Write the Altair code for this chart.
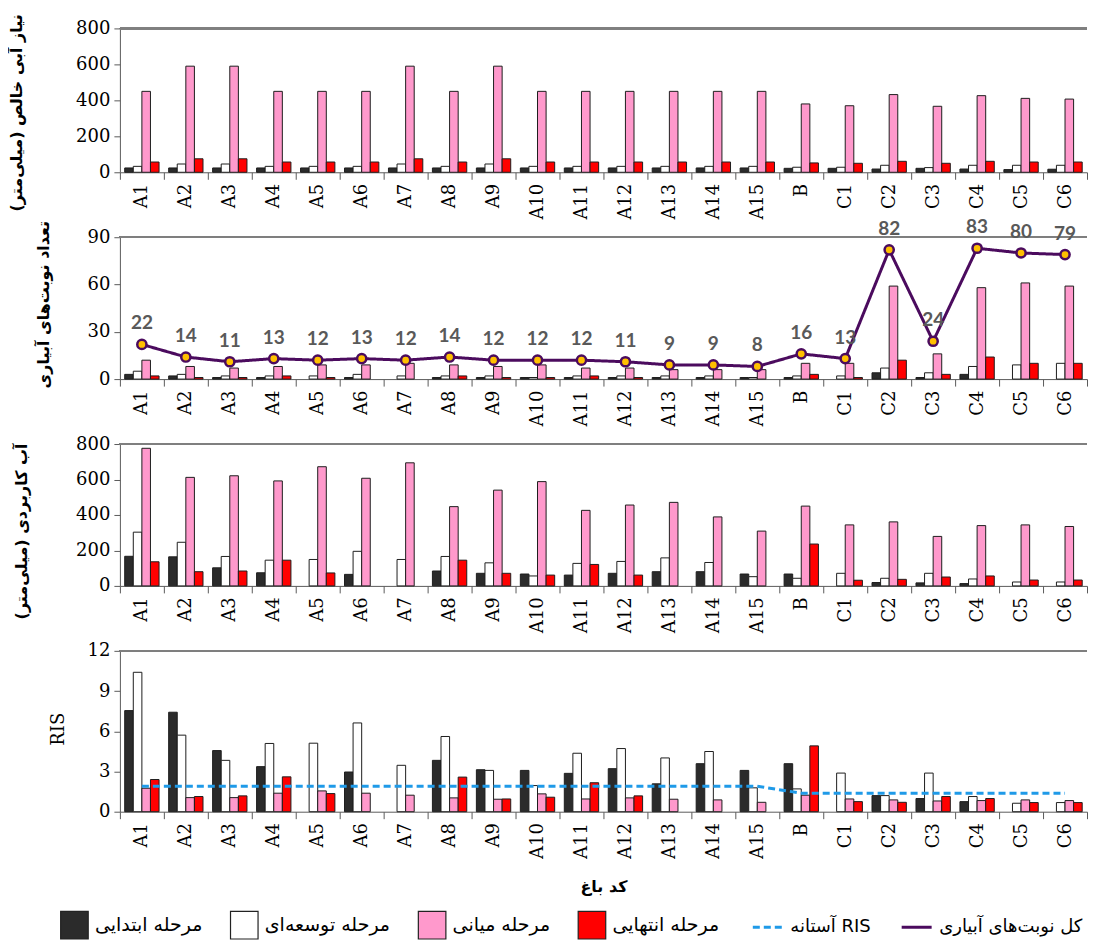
import altair as alt
import pandas as pd

cats = ["A1", "A2", "A3", "A4", "A5", "A6", "A7", "A8", "A9", "A10", "A11", "A12",
        "A13", "A14", "A15", "B", "C1", "C2", "C3", "C4", "C5", "C6"]
stages = ["مرحله ابتدایی", "مرحله توسعه‌ای", "مرحله میانی", "مرحله انتهایی"]
stage_colors = ["#2b2b2b", "#ffffff", "#ff99cc", "#ff0000"]
line_series = ["آستانه RIS", "کل نوبت‌های آبیاری"]
line_colors = ["#1f9ae8", "#4b0b5e"]

# Panel 1: net irrigation requirement (mm)
nir_initial = [24, 24, 24, 24, 24, 24, 24, 24, 24, 24, 24, 24, 24, 24, 24, 22, 22, 18, 22, 18, 15, 17]
nir_dev = [33, 46, 46, 33, 33, 33, 46, 33, 46, 33, 33, 33, 33, 33, 33, 28, 28, 39, 26, 39, 39, 39]
nir_mid = [450, 590, 590, 450, 450, 450, 590, 450, 590, 450, 450, 450, 450, 450, 450, 380, 370, 432, 367, 426, 411, 407]
nir_late = [57, 75, 75, 57, 57, 57, 75, 57, 75, 57, 57, 57, 57, 57, 57, 52, 50, 61, 50, 61, 57, 57]

# Panel 2: number of irrigation events
n_initial = [3, 2, 1, 1, 0, 1, 0, 1, 1, 1, 1, 1, 1, 1, 1, 1, 0, 4, 1, 3, 0, 0]
n_dev = [5, 3, 2, 2, 2, 3, 2, 2, 2, 1, 2, 2, 2, 2, 1, 2, 2, 7, 4, 8, 9, 10]
n_mid = [12, 8, 7, 8, 9, 9, 10, 9, 8, 9, 7, 7, 6, 6, 6, 10, 10, 59, 16, 58, 61, 59]
n_late = [2, 1, 1, 2, 1, 0, 0, 2, 1, 1, 2, 1, 0, 0, 0, 3, 1, 12, 3, 14, 10, 10]
n_total = [22, 14, 11, 13, 12, 13, 12, 14, 12, 12, 12, 11, 9, 9, 8, 16, 13, 82, 24, 83, 80, 79]

# Panel 3: applied water (mm)
aw_initial = [167, 164, 102, 74, 0, 65, 0, 84, 71, 67, 61, 71, 80, 80, 67, 67, 0, 19, 17, 13, 0, 0]
aw_dev = [303, 246, 166, 145, 149, 195, 149, 166, 130, 56, 127, 138, 158, 132, 52, 43, 71, 43, 71, 39, 22, 22]
aw_mid = [776, 612, 621, 592, 672, 607, 694, 447, 540, 588, 426, 456, 471, 389, 309, 450, 344, 361, 279, 340, 344, 335]
aw_late = [136, 80, 84, 145, 73, 0, 0, 145, 71, 61, 121, 61, 0, 0, 0, 236, 32, 37, 50, 56, 33, 33]

# Panel 4: RIS
ris_initial = [7.54, 7.42, 4.56, 3.36, 0, 2.96, 0, 3.83, 3.13, 3.08, 2.86, 3.21, 2.08, 3.58, 3.08, 3.58, 0, 1.2, 0.98, 0.75, 0, 0]
ris_dev = [10.4, 5.71, 3.83, 5.09, 5.11, 6.62, 3.46, 5.61, 3.08, 1.95, 4.36, 4.71, 4.01, 4.49, 1.78, 1.70, 2.88, 1.2, 2.88, 1.13, 0.63, 0.68]
ris_mid = [1.75, 1.05, 1.05, 1.38, 1.55, 1.38, 1.23, 1.03, 0.93, 1.33, 0.95, 1.03, 0.93, 0.88, 0.70, 1.23, 0.95, 0.88, 0.80, 0.83, 0.88, 0.83]
ris_late = [2.4, 1.13, 1.18, 2.6, 1.35, 0, 0, 2.58, 0.95, 1.08, 2.16, 1.18, 0, 0, 0, 4.91, 0.75, 0.70, 1.13, 0.98, 0.68, 0.68]
ris_threshold = [1.9, 1.9, 1.9, 1.9, 1.9, 1.9, 1.9, 1.9, 1.9, 1.9, 1.9, 1.9, 1.9, 1.9, 1.9,
                 1.38, 1.38, 1.38, 1.38, 1.38, 1.38, 1.38]

W = 968
AXIS_COLOR = "#5a5a5a"


def stage_frame(arrays):
    rows = []
    for s, arr in zip(stages, arrays):
        for c, v in zip(cats, arr):
            if v > 0:
                rows.append({"cat": c, "stage": s, "value": v})
    return pd.DataFrame(rows)


def x_enc(show_title):
    ax = dict(labelAngle=270, tickBand="extent", tickSize=7, labelPadding=4,
              domainColor=AXIS_COLOR, tickColor=AXIS_COLOR, labelOverlap=False)
    if show_title:
        ax.update(title="کد باغ", titleFont="DejaVu Sans", titleFontSize=16,
                  titleFontWeight="bold", titlePadding=20, titleColor="black")
    else:
        ax.update(title=None)
    return alt.X("cat:N", sort=cats,
                 scale=alt.Scale(domain=cats, paddingInner=0, paddingOuter=0),
                 axis=alt.Axis(**ax))


fill_legend = alt.Legend(title=None, orient="none", legendX=-60, legendY=883,
                         direction="horizontal", symbolType="square", symbolSize=760,
                         symbolStrokeColor="#222222", symbolStrokeWidth=1.2,
                         labelFont="DejaVu Sans", labelFontSize=19, labelColor="black",
                         columnPadding=25, labelOffset=6)
stroke_legend = alt.Legend(title=None, orient="none", legendX=632, legendY=883,
                           direction="horizontal", symbolType="stroke", symbolSize=900,
                           symbolStrokeWidth=3,
                           labelFont="DejaVu Sans", labelFontSize=18, labelColor="black",
                           columnPadding=24, labelOffset=6)


def bar_panel(arrays, ymax, yticks, ytitle, tpad, show_x, title_y,
              title_font="DejaVu Sans", title_size=16, title_weight="bold"):
    df = stage_frame(arrays)
    y = alt.Y("value:Q", scale=alt.Scale(domain=[0, ymax], nice=False),
              axis=alt.Axis(values=yticks, title=ytitle, titlePadding=tpad,
                            titleFont=title_font, titleFontSize=title_size,
                            titleFontWeight=title_weight, titleColor="black",
                            titleY=title_y, tickCount=len(yticks),
                            tickSize=6, domainColor=AXIS_COLOR, tickColor=AXIS_COLOR,
                            labelPadding=4, labelOverlap=False))
    bars = alt.Chart(df).mark_bar(stroke="#1e1e1e", strokeWidth=1).encode(
        x=x_enc(show_x),
        xOffset=alt.XOffset("stage:N", sort=stages,
                            scale=alt.Scale(domain=stages, paddingInner=0, paddingOuter=0.56)),
        y=y,
        fill=alt.Fill("stage:N", sort=stages,
                      scale=alt.Scale(domain=stages, range=stage_colors),
                      legend=fill_legend),
    )
    # plot-area top border
    top = alt.Chart(df).mark_rule(color="#7f7f7f", strokeWidth=1.5).encode(
        x=alt.value(0), x2=alt.value(W), y=alt.value(0))
    return bars, top


# Panel 1
b1, t1 = bar_panel([nir_initial, nir_dev, nir_mid, nir_late], 800, [0, 200, 400, 600, 800],
                   "نیاز آبی خالص (میلی‌متر)", 51, False, 84)
p1 = alt.layer(b1, t1).properties(width=W, height=144)

# Panel 2
b2, t2 = bar_panel([n_initial, n_dev, n_mid, n_late], 90, [0, 30, 60, 90],
                   "تعداد نوبت‌های آبیاری", 36, False, 67)
tot_df = pd.DataFrame({"cat": cats, "value": n_total, "series": line_series[1]})
stroke_scale = alt.Scale(domain=line_series, range=line_colors)
dash_scale = alt.Scale(domain=line_series, range=[[7, 4], [1, 0]])
xs = alt.X("cat:N", sort=cats, scale=alt.Scale(domain=cats, paddingInner=0, paddingOuter=0))
tot_line = alt.Chart(tot_df).mark_line(strokeWidth=3).encode(
    x=xs, y="value:Q",
    stroke=alt.Stroke("series:N", scale=stroke_scale, legend=stroke_legend),
    strokeDash=alt.StrokeDash("series:N", scale=dash_scale, legend=stroke_legend),
)
tot_pts = alt.Chart(tot_df).mark_circle(size=85, fill="#ffc000", strokeWidth=2.5, opacity=1).encode(
    x=xs, y="value:Q",
    stroke=alt.Stroke("series:N", scale=stroke_scale, legend=stroke_legend),
)
tot_txt = alt.Chart(tot_df).mark_text(dy=-21, font="Lato", fontSize=19, fontWeight="bold",
                                      color="#595959").encode(
    x=xs, y="value:Q", text="value:Q")
p2 = alt.layer(b2, t2, tot_line, tot_pts, tot_txt).properties(width=W, height=142)

# Panel 3
b3, t3 = bar_panel([aw_initial, aw_dev, aw_mid, aw_late], 800, [0, 200, 400, 600, 800],
                   "آب کاربردی (میلی‌متر)", 46, False, 87)
p3 = alt.layer(b3, t3).properties(width=W, height=142)

# Panel 4
b4, t4 = bar_panel([ris_initial, ris_dev, ris_mid, ris_late], 12, [0, 3, 6, 9, 12],
                   "RIS", 20, True, 78, title_font="DejaVu Serif", title_size=18,
                   title_weight="normal")
thr_df = pd.DataFrame({"cat": cats, "value": ris_threshold, "series": line_series[0]})
thr_line = alt.Chart(thr_df).mark_line(strokeWidth=3).encode(
    x=xs, y="value:Q",
    stroke=alt.Stroke("series:N", scale=stroke_scale, legend=stroke_legend),
    strokeDash=alt.StrokeDash("series:N", scale=dash_scale, legend=stroke_legend),
)
p4 = alt.layer(b4, t4, thr_line).properties(width=W, height=161)

chart = alt.vconcat(p1, p2, p3, p4, spacing=65, bounds="flush").properties(
    padding={"left": 0, "top": 5, "right": 0, "bottom": 0}
).configure_view(stroke=None).configure_axis(
    labelFont="DejaVu Serif", labelFontSize=18, labelColor="black", grid=False,
    labelOverlap=False
)

chart.save("out.html", embed_options={"renderer": "svg", "actions": False})
